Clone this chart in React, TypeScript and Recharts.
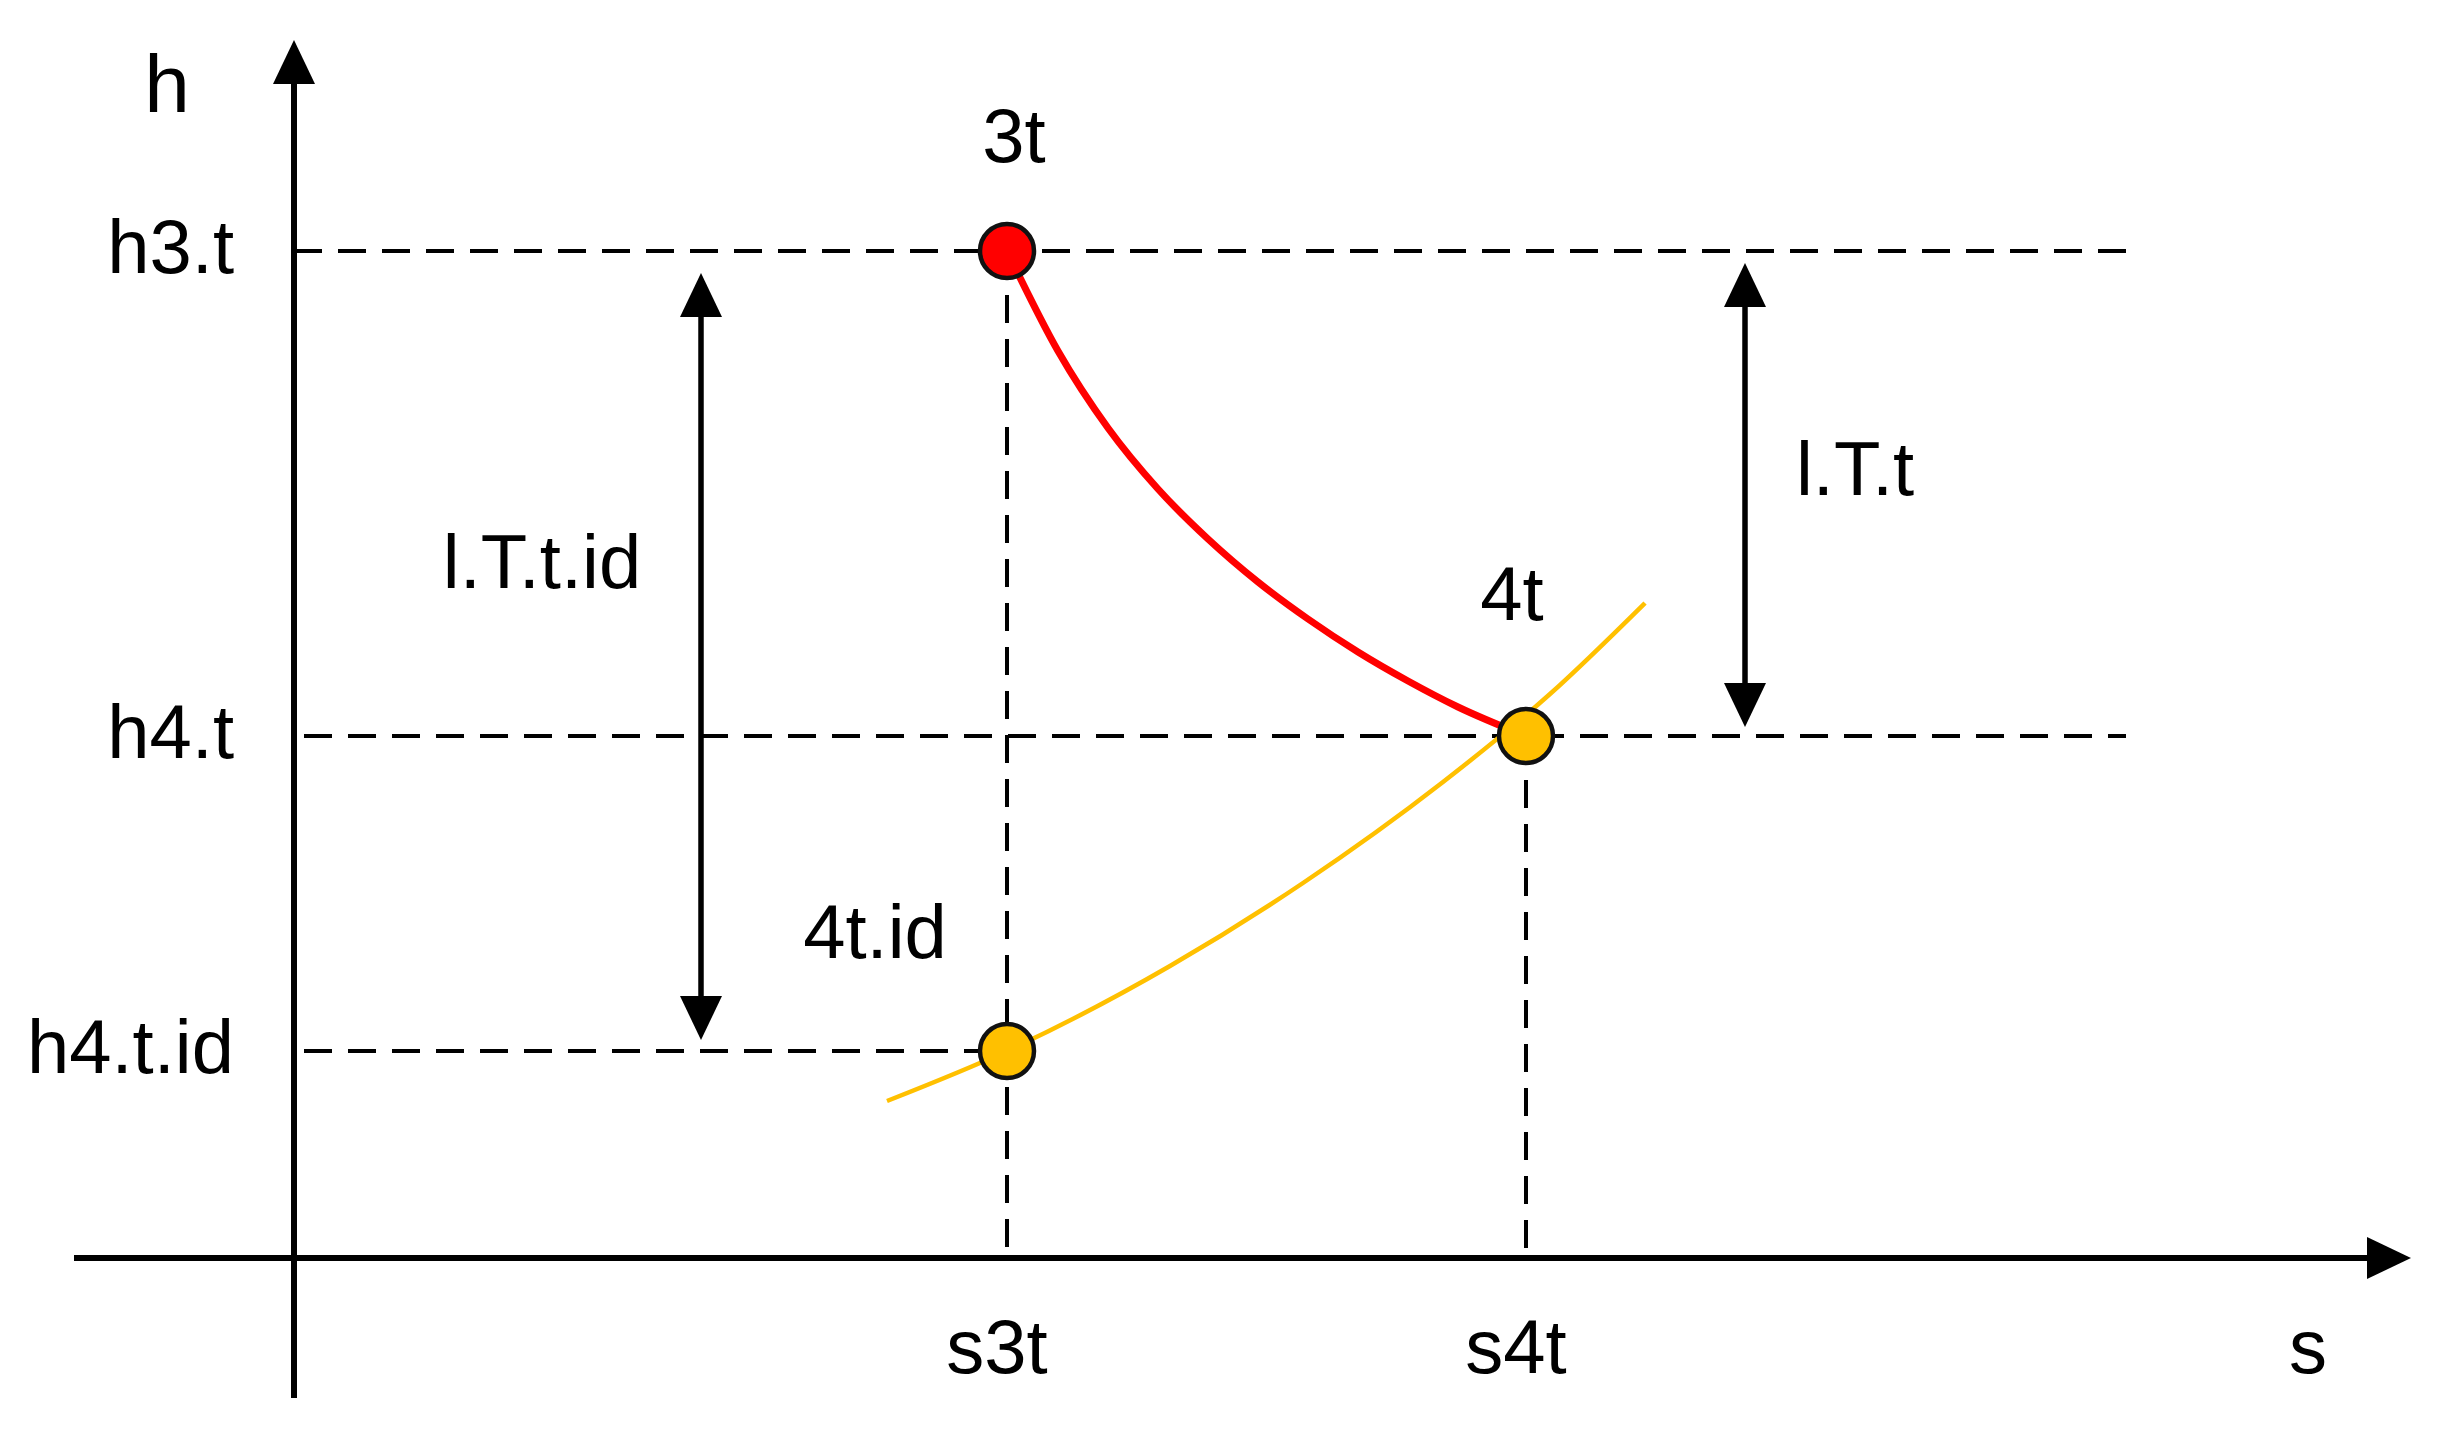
import React from 'react';
import { ComposedChart, Line, Scatter, XAxis, YAxis, ReferenceLine, ReferenceDot } from 'recharts';

const FONT = '"Liberation Sans", Arial, sans-serif';

// state points on the h-s diagram
const s3t = 3.565;
const s4t = 6.16;
const h3t = 10.07;
const h4t = 5.22;
const h4tid = 2.07;

// axis tick labels
const xTicks = [s3t, s4t];
const xTickLabels = ['s3t', 's4t'];
const yTicks = [h4tid, h4t, h3t];
const yTickLabels = ['h4.t.id', 'h4.t', 'h3.t'];

// real expansion 3t -> 4t (red)
const expansionS = [3.565, 3.82, 4.07, 4.32, 4.57, 4.82, 5.07, 5.32, 5.57, 5.82, 6.16];
const expansionH = [10.07, 9.07, 8.3, 7.69, 7.19, 6.76, 6.39, 6.06, 5.77, 5.51, 5.22];

// isobar through 4t.id and 4t (orange)
const isobarS = [2.965, 3.565, 4.38, 5.045, 5.745, 6.28, 6.755];
const isobarH = [1.57, 2.07, 2.92, 3.75, 4.76, 5.64, 6.55];

// axis extents
const sAxisRange = [-1.1, 10.585];
const hAxisRange = [-1.4, 12.18];
const guideEndS = 9.16;

// dimension arrows (l.T.t.id on the left, l.T.t on the right)
const dimArrowS = [2.035, 7.255];
const dimArrowTop = [9.85, 9.95];
const dimArrowBottom = [2.18, 5.31];

// free text annotations
const noteText = ['h', 's', '3t', '4t', '4t.id', 'l.T.t.id', 'l.T.t'];
const noteS = [-0.635, 10.07, 3.6, 6.09, 2.905, 1.24, 7.805];
const noteH = [11.46, -1.15, 10.96, 6.38, 3.0, 6.7, 7.63];

const expansion = expansionS.map((s, i) => ({ s, h: expansionH[i] }));
const isobar = isobarS.map((s, i) => ({ s, h: isobarH[i] }));
const redPoints = [{ s: s3t, h: h3t }];
const orangePoints = [{ s: s4t, h: h4t }, { s: s3t, h: h4tid }];

const arrowShape = (headStart: boolean, headEnd: boolean, width: number) => (p: any) => {
  const { x1, y1, x2, y2 } = p;
  const dx = x2 - x1;
  const dy = y2 - y1;
  const len = Math.hypot(dx, dy) || 1;
  const ux = dx / len;
  const uy = dy / len;
  const L = 44;
  const W = 21;
  const head = (tx: number, ty: number, vx: number, vy: number) => {
    const bx = tx - vx * L;
    const by = ty - vy * L;
    return `${tx},${ty} ${bx - vy * W},${by + vx * W} ${bx + vy * W},${by - vx * W}`;
  };
  const sx = headStart ? x1 + ux * L * 0.8 : x1;
  const sy = headStart ? y1 + uy * L * 0.8 : y1;
  const ex = headEnd ? x2 - ux * L * 0.8 : x2;
  const ey = headEnd ? y2 - uy * L * 0.8 : y2;
  return (
    <g>
      <line x1={sx} y1={sy} x2={ex} y2={ey} stroke="#000" strokeWidth={width} />
      {headStart && <polygon points={head(x1, y1, -ux, -uy)} fill="#000" />}
      {headEnd && <polygon points={head(x2, y2, ux, uy)} fill="#000" />}
    </g>
  );
};

const dot = (fill: string) => (p: any) => (
  <circle cx={p.cx} cy={p.cy} r={27} fill={fill} stroke="#111" strokeWidth={4.5} />
);

const textShape = (label: string, size: number) => (p: any) => (
  <text x={p.cx} y={p.cy} textAnchor="middle" fontSize={size} fill="#000" fontFamily={FONT}>
    {label}
  </text>
);

const guide = { stroke: '#000', strokeWidth: 4, strokeDasharray: '28 16', ifOverflow: 'visible' as const };

export default function App() {
  return (
    <div style={{ width: 2420, height: 1420, fontFamily: FONT }}>
      <ComposedChart width={2420} height={1420} margin={{ top: 20, right: 14, bottom: 30, left: 86 }}>
        <XAxis
          type="number"
          dataKey="s"
          domain={[0, 10.6]}
          allowDataOverflow
          ticks={xTicks}
          interval={0}
          tickFormatter={(v: number) => xTickLabels[xTicks.indexOf(v)]}
          axisLine={false}
          tickLine={false}
          tickSize={0}
          tickMargin={61}
          height={140}
          tick={{ fontSize: 76, fill: '#000', fontFamily: FONT, dx: -10 }}
        />
        <YAxis
          type="number"
          dataKey="h"
          domain={[0, 12.3]}
          allowDataOverflow
          ticks={yTicks}
          interval={0}
          tickFormatter={(v: number) => yTickLabels[yTicks.indexOf(v)]}
          axisLine={false}
          tickLine={false}
          tickSize={0}
          tickMargin={60}
          width={200}
          tick={{ fontSize: 76, fill: '#000', fontFamily: FONT, dy: -5 }}
        />

        {/* dashed guides */}
        <ReferenceLine segment={[{ x: 0, y: h3t }, { x: guideEndS, y: h3t }]} {...guide} />
        <ReferenceLine segment={[{ x: 0.05, y: h4t }, { x: guideEndS, y: h4t }]} {...guide} />
        <ReferenceLine segment={[{ x: 0.05, y: h4tid }, { x: s3t, y: h4tid }]} {...guide} />
        <ReferenceLine segment={[{ x: s3t, y: h3t }, { x: s3t, y: 0 }]} {...guide} />
        <ReferenceLine segment={[{ x: s4t, y: h4t }, { x: s4t, y: 0 }]} {...guide} />

        {/* axes with arrow heads */}
        <ReferenceLine
          segment={[{ x: sAxisRange[0], y: 0 }, { x: sAxisRange[1], y: 0 }]}
          ifOverflow="visible"
          shape={arrowShape(false, true, 6)}
        />
        <ReferenceLine
          segment={[{ x: 0, y: hAxisRange[0] }, { x: 0, y: hAxisRange[1] }]}
          ifOverflow="visible"
          shape={arrowShape(false, true, 6)}
        />

        {/* enthalpy difference arrows */}
        {dimArrowS.map((s, i) => (
          <ReferenceLine
            key={`dim-${i}`}
            segment={[{ x: s, y: dimArrowTop[i] }, { x: s, y: dimArrowBottom[i] }]}
            ifOverflow="visible"
            shape={arrowShape(true, true, 5.5)}
          />
        ))}

        <Line
          data={isobar}
          dataKey="h"
          type="monotone"
          stroke="#ffc000"
          strokeWidth={4.5}
          dot={false}
          activeDot={false}
          isAnimationActive={false}
        />
        <Line
          data={expansion}
          dataKey="h"
          type="monotone"
          stroke="#ff0000"
          strokeWidth={7}
          dot={false}
          activeDot={false}
          isAnimationActive={false}
        />
        <Scatter data={orangePoints} dataKey="h" shape={dot('#ffc000')} isAnimationActive={false} />
        <Scatter data={redPoints} dataKey="h" shape={dot('#ff0000')} isAnimationActive={false} />

        {noteText.map((t, i) => (
          <ReferenceDot
            key={`note-${i}`}
            x={noteS[i]}
            y={noteH[i]}
            ifOverflow="visible"
            shape={textShape(t, t === 'h' ? 82 : 76)}
          />
        ))}
      </ComposedChart>
    </div>
  );
}
